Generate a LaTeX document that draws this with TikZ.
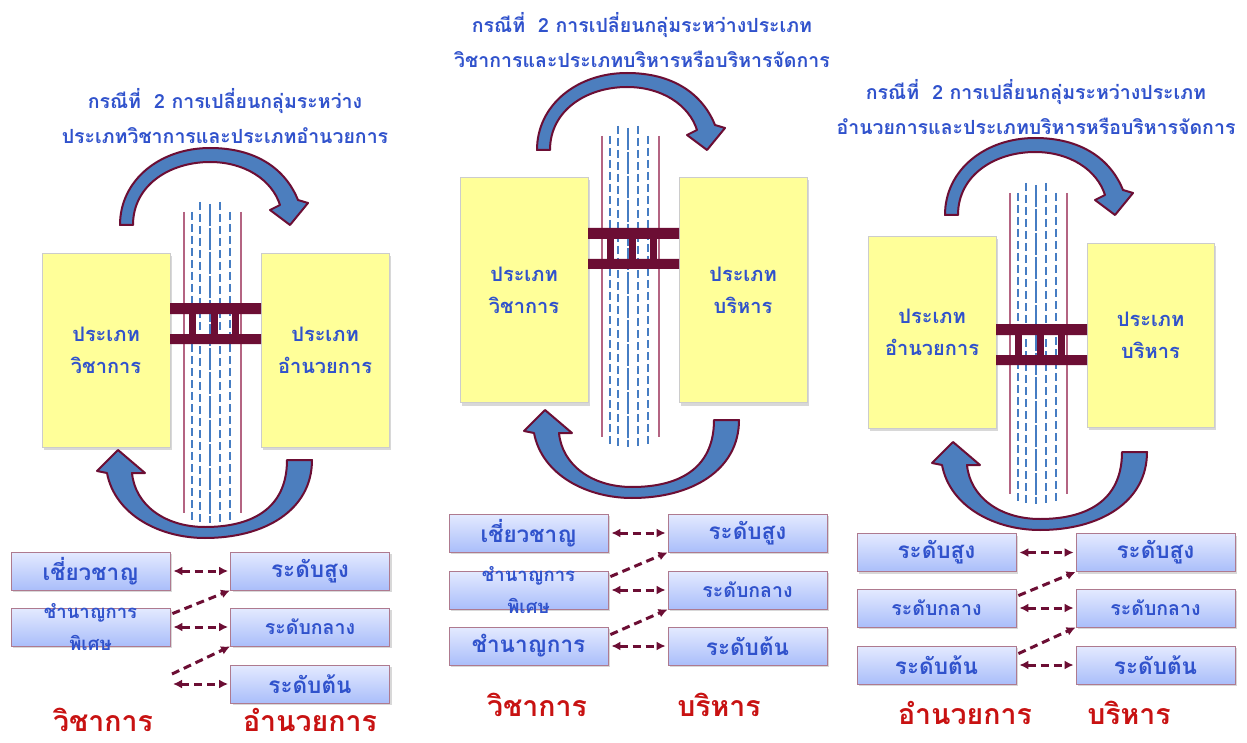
\documentclass[tikz,border=0pt]{standalone}
\usepackage{fontspec}
\setmainfont[Script=Thai]{Loma}
\usetikzlibrary{arrows.meta,shadows}
\definecolor{thaiblue}{RGB}{48,82,204}
\definecolor{boxyellow}{RGB}{255,255,153}
\definecolor{wine}{RGB}{108,14,52}
\definecolor{railpink}{RGB}{180,100,130}
\definecolor{laneblue}{RGB}{70,125,195}
\definecolor{arrowblue}{RGB}{76,126,190}
\definecolor{lavtop}{RGB}{228,234,255}
\definecolor{lavbot}{RGB}{170,190,250}
\definecolor{labelred}{RGB}{200,18,18}

\begin{document}
\begin{tikzpicture}[x=1pt, y=-1pt,
    heading/.style={font=\fontsize{19.5}{35}\selectfont\bfseries, text=thaiblue, align=center},
    typebox/.style={draw=black!20, fill=boxyellow, minimum width=128pt, align=center,
                    font=\fontsize{20}{32}\selectfont\bfseries, text=thaiblue,
                    drop shadow={shadow xshift=2pt, shadow yshift=-3pt, opacity=.3}},
    levelbox/.style={draw=wine!55, line width=0.8pt, top color=lavtop, bottom color=lavbot,
                     minimum width=159pt, minimum height=38pt, inner ysep=1pt,
                     font=\fontsize{22.5}{24}\selectfont\bfseries, text=thaiblue,
                     drop shadow={shadow xshift=2pt, shadow yshift=-2pt, opacity=.3}},
    midfont/.style={font=\fontsize{19.5}{22}\selectfont\bfseries},
    spectext/.style={font=\fontsize{18.5}{32}\selectfont\bfseries, text=thaiblue, align=center},
    grouplabel/.style={font=\fontsize{28.5}{30}\selectfont\bfseries, text=labelred,
                       anchor=base, inner sep=1pt, text depth=2pt},
    pairarrow/.style={{Latex[length=9pt,width=9pt]}-{Latex[length=9pt,width=9pt]},
                      wine, line width=3pt, dash pattern=on 8pt off 5pt},
    steparrow/.style={-{Latex[length=9pt,width=9pt]}, wine, line width=3pt,
                      dash pattern=on 8pt off 5pt},
    bigarrow/.style={fill=arrowblue, draw=wine, line width=2pt, line join=round},
    column/.pic={
      \draw[railpink, line width=1.2pt] (0,0) -- (0,301) (57,0) -- (57,301);
      \foreach \dx/\dy in {8/0, 16/-10, 36/-10, 46/0}
        \draw[laneblue, line width=2.6pt, dash pattern=on 8pt off 4pt] (\dx,\dy) -- (\dx,311);
      \draw[laneblue, line width=2.6pt, dash pattern=on 22pt off 2pt] (26,-8) -- (26,311);
    },
    crossing/.pic={
      \fill[wine] (0,0) rectangle (91,11) (0,31) rectangle (91,41);
      \foreach \px in {19,41,62} \fill[wine] (\px,11) rectangle ++(7,20);
    },
    overarrow/.pic={
      \draw[bigarrow] (0,0) -- (13,0) .. controls (13,-40) and (50,-63) .. (90,-63)
        .. controls (125,-63) and (152,-45) .. (160,-20) -- (150,-15) -- (170,0)
        -- (188,-22) -- (178,-25) .. controls (165,-57) and (135,-77) .. (90,-77)
        .. controls (40,-77) and (0,-45) .. (0,0) -- cycle;
    },
    underarrow/.pic={
      \draw[bigarrow] (0,0) -- (-25,0) .. controls (-25,50) and (-62,67) .. (-107,67)
        .. controls (-147,67) and (-177,45) .. (-180,13) -- (-167,13) -- (-194,-10)
        -- (-215,11) -- (-205,13) .. controls (-197,55) and (-152,78) .. (-107,78)
        .. controls (-47,78) and (0,50) .. (0,0) -- cycle;
    }
  ]
  \fill[white] (0,0) rectangle (1247,743);
  \useasboundingbox (0,0) rectangle (1247,743);

  % Case: academic -> directive
  \node[heading] (head1) at (225,116)
    {กรณีที่\ \ 2 การเปลี่ยนกลุ่มระหว่าง\\ประเภทวิชาการและประเภทอำนวยการ};
  \pic at (184,212) {column};
  \node[typebox, minimum height=194pt] (vich1) at (106,350) {ประเภท\\วิชาการ};
  \node[typebox, minimum height=194pt] (amnuay1) at (325,350) {ประเภท\\อำนวยการ};
  \pic at (170,303) {crossing};
  \pic at (120,225) {overarrow};
  \pic at (312,460) {underarrow};
  \node[levelbox] (exp1) at (90.5,571) {เชี่ยวชาญ};
  \node[levelbox] (spec1) at (90.5,627) {};
  \node[spectext] (spec1t) at (spec1) {ชำนาญการ\\พิเศษ};
  \node[levelbox] (high1) at (310,571) {ระดับสูง};
  \node[levelbox, midfont] (mid1) at (310,627) {ระดับกลาง};
  \node[levelbox] (low1) at (310,684) {ระดับต้น};
  \coordinate (free1) at (173,684);
  \coordinate (freeup1) at (172,674);
  \draw[pairarrow] ([xshift=3pt]exp1.east) -- ([xshift=-2pt]high1.west);
  \draw[pairarrow] ([xshift=3pt]spec1.east) -- ([xshift=-2pt]mid1.west);
  \draw[pairarrow] (free1) -- ([xshift=-2pt]low1.west);
  \draw[steparrow] ([shift={(2,6)}]spec1.north east) -- (high1.south west);
  \draw[steparrow] (freeup1) -- (mid1.south west);
  \node[grouplabel] (lab1a) at (103,731) {วิชาการ};
  \node[grouplabel] (lab1b) at (310,731) {อำนวยการ};

  % Case: academic -> management
  \node[heading] (head2) at (642,40)
    {กรณีที่\ \ 2 การเปลี่ยนกลุ่มระหว่างประเภท\\วิชาการและประเภทบริหารหรือบริหารจัดการ};
  \pic at (602,136) {column};
  \node[typebox, minimum height=225pt] (vich2) at (524,290) {ประเภท\\วิชาการ};
  \node[typebox, minimum height=225pt] (borihan2) at (743,290) {ประเภท\\บริหาร};
  \pic at (588,228) {crossing};
  \pic at (537,150) {overarrow};
  \pic at (739,420) {underarrow};
  \node[levelbox] (exp2) at (528.5,533) {เชี่ยวชาญ};
  \node[levelbox] (spec2) at (528.5,590) {};
  \node[spectext] (spec2t) at (spec2) {ชำนาญการ\\พิเศษ};
  \node[levelbox] (pro2) at (528.5,646) {ชำนาญการ};
  \node[levelbox] (high2) at (747.5,533) {ระดับสูง};
  \node[levelbox, midfont] (mid2) at (747.5,590) {ระดับกลาง};
  \node[levelbox] (low2) at (747.5,646) {ระดับต้น};
  \draw[pairarrow] ([xshift=3pt]exp2.east) -- ([xshift=-2pt]high2.west);
  \draw[pairarrow] ([xshift=3pt]spec2.east) -- ([xshift=-2pt]mid2.west);
  \draw[pairarrow] ([xshift=3pt]pro2.east) -- ([xshift=-2pt]low2.west);
  \draw[steparrow] ([shift={(2,6)}]spec2.north east) -- (high2.south west);
  \draw[steparrow] ([shift={(2,8)}]pro2.north east) -- (mid2.south west);
  \node[grouplabel] (lab2a) at (537,716) {วิชาการ};
  \node[grouplabel] (lab2b) at (719,716) {บริหาร};

  % Case: directive -> management
  \node[heading] (head3) at (1036,107)
    {กรณีที่\ \ 2 การเปลี่ยนกลุ่มระหว่างประเภท\\อำนวยการและประเภทบริหารหรือบริหารจัดการ};
  \pic at (1010,193) {column};
  \node[typebox, minimum height=192pt] (amnuay3) at (932,332) {ประเภท\\อำนวยการ};
  \node[typebox, minimum height=184pt, minimum width=127pt] (borihan3) at (1150.5,335) {ประเภท\\บริหาร};
  \pic at (996,324) {crossing};
  \pic at (945,215) {overarrow};
  \pic at (1147,452) {underarrow};
  \node[levelbox] (high3a) at (936.5,552.5) {ระดับสูง};
  \node[levelbox, midfont] (mid3a) at (936.5,608) {ระดับกลาง};
  \node[levelbox] (low3a) at (936.5,665) {ระดับต้น};
  \node[levelbox] (high3b) at (1155.5,552.5) {ระดับสูง};
  \node[levelbox, midfont] (mid3b) at (1155.5,608) {ระดับกลาง};
  \node[levelbox] (low3b) at (1155.5,665) {ระดับต้น};
  \draw[pairarrow] ([xshift=3pt]high3a.east) -- ([xshift=-2pt]high3b.west);
  \draw[pairarrow] ([xshift=3pt]mid3a.east) -- ([xshift=-2pt]mid3b.west);
  \draw[pairarrow] ([xshift=3pt]low3a.east) -- ([xshift=-2pt]low3b.west);
  \draw[steparrow] ([shift={(2,7)}]mid3a.north east) -- (high3b.south west);
  \draw[steparrow] ([shift={(2,8)}]low3a.north east) -- (mid3b.south west);
  \node[grouplabel] (lab3a) at (965,724) {อำนวยการ};
  \node[grouplabel] (lab3b) at (1129,724) {บริหาร};
\end{tikzpicture}
\end{document}
